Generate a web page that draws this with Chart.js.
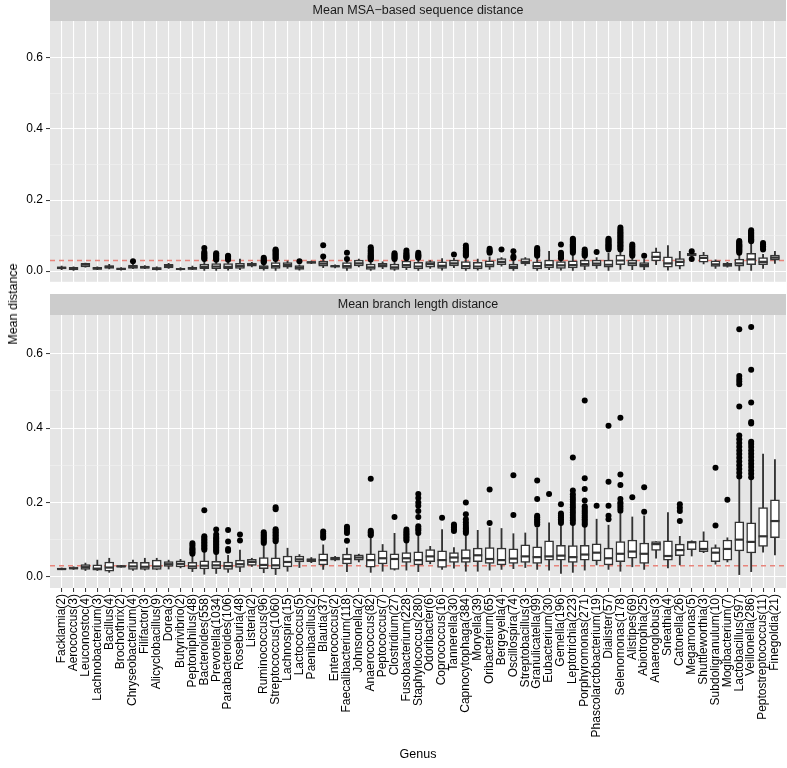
<!DOCTYPE html>
<html><head><meta charset="utf-8">
<script src="https://cdn.jsdelivr.net/npm/chart.js@4"></script>
<style>
html,body{margin:0;padding:0;background:#fff;width:787px;height:768px;overflow:hidden;font-family:"Liberation Sans",Arial,sans-serif}
canvas{position:absolute;left:0}
#c1{top:0}
#c2{top:294px}
#ylab{position:absolute;left:13px;top:304px;transform:translate(-50%,-50%) rotate(-90deg);font-size:12.5px;white-space:nowrap;color:#000}
</style></head><body>
<canvas id="c1" width="787" height="292"></canvas>
<canvas id="c2" width="787" height="474"></canvas>
<div id="ylab">Mean distance</div>
<script>
// ---------- data ----------
const genera = ["Facklamia(2)","Aerococcus(3)","Leuconostoc(4)","Lachnobacterium(3)","Bacillus(4)","Brochothrix(2)","Chryseobacterium(4)","Filifactor(3)","Alicyclobacillus(9)","Dorea(3)","Butyrivibrio(2)","Peptoniphilus(48)","Bacteroides(558)","Prevotella(1034)","Parabacteroides(106)","Roseburia(48)","Listeria(2)","Ruminococcus(96)","Streptococcus(1060)","Lachnospira(15)","Lactococcus(5)","Paenibacillus(2)","Blautia(37)","Enterococcus(2)","Faecalibacterium(118)","Johnsonella(2)","Anaerococcus(82)","Peptococcus(7)","Clostridium(27)","Fusobacterium(228)","Staphylococcus(280)","Odoribacter(6)","Coprococcus(16)","Tannerella(30)","Capnocytophaga(384)","Moryella(39)","Oribacterium(65)","Bergeyella(4)","Oscillospira(74)","Streptobacillus(3)","Granulicatella(99)","Eubacterium(30)","Gemella(196)","Leptotrichia(223)","Porphyromonas(271)","Phascolarctobacterium(19)","Dialister(57)","Selenomonas(178)","Alistipes(69)","Abiotrophia(25)","Anaeroglobus(3)","Sneathia(4)","Catonella(26)","Megamonas(5)","Shuttleworthia(3)","Subdoligranulum(10)","Mogibacterium(7)","Lactobacillus(597)","Veillonella(286)","Peptostreptococcus(11)","Finegoldia(21)"];

const panelTitles = ["Mean MSA\u2212based sequence distance", "Mean branch length distance"];
const refLine = 0.03;
const yMajorTicks = [0, 0.2, 0.4, 0.6];
const yMinorTicks = [0.1, 0.3, 0.5];

// Panel 1: Mean MSA-based sequence distance
const msaLo  = [.004,.002,.011,.004,.006,.003,.007,.007,.003,.008,.003,.004,.002,.002,.003,.004,.012,.003,.002,.008,.003,.021,.010,.009,.002,.012,.002,.007,.002,.004,.002,.008,.003,.010,.002,.003,.005,.014,.002,.016,.002,.004,.003,.002,.004,.008,.002,.005,.004,.004,.018,.003,.006,.040,.020,.008,.011,.002,.002,.008,.022];
const msaQ1  = [.006,.004,.012,.005,.008,.004,.008,.008,.004,.009,.004,.005,.007,.007,.007,.008,.014,.006,.008,.011,.005,.022,.014,.011,.008,.015,.005,.011,.005,.010,.006,.011,.008,.015,.006,.006,.011,.018,.006,.020,.006,.009,.008,.009,.013,.015,.011,.018,.015,.011,.029,.011,.014,.043,.025,.013,.013,.014,.018,.018,.031];
const msaMed = [.009,.007,.018,.008,.012,.006,.012,.011,.007,.014,.006,.008,.012,.013,.012,.014,.019,.011,.014,.017,.010,.025,.021,.014,.014,.022,.011,.016,.011,.017,.013,.020,.015,.022,.014,.013,.018,.026,.012,.026,.014,.017,.016,.017,.020,.021,.018,.030,.022,.017,.040,.022,.026,.047,.037,.019,.017,.022,.033,.026,.038];
const msaQ3  = [.012,.011,.022,.011,.016,.009,.017,.014,.010,.019,.008,.011,.020,.021,.021,.022,.023,.016,.024,.024,.016,.027,.028,.016,.024,.031,.020,.022,.020,.028,.025,.027,.026,.031,.027,.025,.029,.035,.020,.035,.026,.031,.027,.029,.031,.031,.031,.045,.031,.024,.054,.040,.035,.050,.045,.029,.022,.034,.050,.038,.045];
const msaHi  = [.014,.012,.023,.012,.019,.010,.019,.016,.012,.022,.010,.014,.032,.030,.030,.034,.025,.023,.032,.028,.018,.028,.035,.018,.030,.034,.030,.026,.030,.033,.035,.030,.035,.036,.038,.034,.040,.038,.030,.038,.036,.056,.033,.045,.040,.038,.050,.058,.040,.034,.065,.072,.056,.052,.053,.032,.025,.048,.080,.047,.056];
const msaOut = [[],[],[],[],[],[],[.028],[],[],[],[],[],
  [.034,.037,.040,.043,.046,.050,.054,.065],
  [.032,.035,.038,.041,.044,.047,.050],
  [.032,.035,.038,.041,.043],
  [],[],
  [.025,.028,.031,.034,.038],
  [.034,.037,.040,.043,.046,.049,.052,.055,.058,.061],
  [],[.028],[],[.041,.073],[],[.034,.052],[],
  [.033,.036,.039,.042,.045,.048,.051,.055,.058,.062,.067],
  [],[.034,.037,.040,.043,.046,.050],
  [.036,.039,.042,.045,.048,.052,.058],
  [.038,.041,.044,.047,.052],
  [],[],[.047],
  [.043,.046,.049,.052,.055,.058,.062,.066,.072],
  [],[.052,.055,.058,.063],[.061],[.037,.041,.056],[],
  [.043,.046,.049,.052,.055,.058,.061,.065],
  [],[.036,.040,.044,.048,.052,.075],
  [.052,.055,.058,.061,.064,.067,.070,.073,.076,.079,.082,.085,.088,.091],
  [.043,.046,.049,.052,.056,.061],
  [.054],
  [.061,.064,.067,.070,.073,.076,.079,.082,.085,.088,.091],
  [.061,.065,.069,.073,.077,.081,.085,.089,.093,.097,.101,.105,.109,.113,.117,.123],
  [.043,.047,.051,.055,.060,.065,.070,.075],
  [.043],[],[],[],[.034,.056],[],[],[],
  [.052,.055,.058,.061,.064,.067,.070,.073,.076,.079,.082,.085],
  [.084,.087,.090,.093,.096,.099,.102,.105,.108,.111,.115],
  [.061,.065,.070,.075,.079],
  []];

// Panel 2: Mean branch length distance
const brLo  = [.019,.020,.017,.017,.012,.026,.017,.018,.019,.021,.024,.014,.007,.009,.012,.014,.028,.011,.006,.015,.025,.038,.020,.043,.014,.040,.012,.015,.018,.018,.014,.035,.020,.023,.015,.015,.018,.020,.022,.025,.020,.018,.009,.012,.018,.032,.020,.015,.027,.020,.050,.024,.032,.056,.065,.034,.040,.006,.014,.066,.059];
const brQ1  = [.020,.021,.020,.018,.015,.027,.020,.020,.020,.028,.027,.021,.021,.022,.020,.025,.031,.022,.021,.027,.040,.041,.032,.045,.035,.045,.026,.035,.020,.039,.032,.041,.025,.039,.039,.041,.036,.032,.036,.039,.036,.045,.045,.039,.045,.043,.032,.041,.050,.036,.071,.045,.057,.073,.068,.041,.045,.070,.064,.082,.105];
const brMed = [.021,.023,.026,.022,.025,.028,.028,.027,.028,.034,.035,.028,.030,.031,.029,.034,.040,.032,.031,.040,.047,.045,.045,.049,.048,.052,.045,.050,.048,.050,.045,.055,.045,.052,.050,.058,.048,.045,.049,.055,.053,.055,.057,.053,.060,.065,.050,.062,.068,.062,.088,.056,.072,.093,.075,.065,.075,.100,.094,.109,.150];
const brQ3  = [.023,.026,.033,.032,.040,.030,.039,.039,.045,.041,.043,.039,.043,.042,.040,.045,.047,.052,.051,.056,.056,.049,.062,.053,.061,.059,.062,.070,.062,.065,.067,.073,.070,.065,.073,.077,.079,.077,.075,.086,.081,.097,.085,.084,.085,.089,.077,.095,.099,.091,.095,.097,.088,.095,.097,.079,.099,.148,.145,.186,.207];
const brHi  = [.024,.027,.037,.045,.050,.031,.045,.050,.050,.045,.047,.058,.070,.065,.058,.072,.050,.083,.090,.077,.060,.052,.086,.055,.077,.061,.105,.087,.117,.095,.113,.082,.127,.079,.115,.125,.132,.130,.116,.118,.132,.145,.139,.140,.136,.155,.139,.170,.161,.164,.095,.173,.109,.097,.121,.086,.105,.262,.262,.330,.315];
const brOut = [[],[],[],[],[],[],[],[],[],[],[],
  [.062,.066,.070,.074,.078,.085,.090],
  [.073,.077,.081,.085,.089,.093,.097,.101,.105,.109,.179],
  [.067,.071,.075,.079,.083,.087,.091,.095,.099,.103,.107,.114,.127],
  [.070,.075,.095,.126],
  [.098,.114],
  [],
  [.091,.095,.099,.103,.107,.111,.115,.120],
  [.096,.100,.104,.108,.112,.116,.120,.124,.128,.182,.187],
  [],[],[],
  [.105,.110,.116,.122],
  [],
  [.097,.118,.123,.129,.135],
  [],
  [.112,.116,.120,.124,.264],
  [],
  [.161],
  [.098,.102,.106,.110,.114,.118,.122,.127],
  [.118,.125,.130,.136,.161,.177,.191,.200,.212,.223],
  [],
  [.159],
  [.123,.128,.133,.137,.141],
  [.118,.122,.126,.130,.134,.140,.147,.155,.168,.200],
  [],
  [.145,.235],
  [],
  [.166,.273],
  [],
  [.141,.146,.150,.155,.160,.164,.209,.259],
  [.223],
  [.145,.150,.155,.160,.165,.170,.195],
  [.145,.152,.159,.166,.173,.180,.187,.194,.201,.208,.215,.222,.232,.321],
  [.140,.145,.150,.155,.160,.165,.170,.175,.180,.185,.190,.205,.236,.265,.474],
  [.191],
  [.155,.164,.191,.256,.406],
  [.178,.184,.190,.196,.200,.209,.247,.275,.428],
  [.214],
  [.175,.241],
  [],[],
  [.150,.177,.186,.195],
  [],[],
  [.138,.293],
  [.207],
  [.27,.28,.29,.30,.31,.32,.33,.34,.35,.36,.37,.38,.458,.518,.525,.532,.54,.666],
  [.268,.277,.286,.295,.304,.313,.322,.331,.340,.349,.357,.363,.412,.416,.469,.557,.672],
  [],[]];

// ---------- chart ----------
const X_MIN = -0.98, X_MAX = 60.93, Y_MIN = -0.03, Y_MAX = 0.704;
const FONT = "'Liberation Sans', Arial, Helvetica, sans-serif";
Chart.defaults.font.family = FONT;
const isMajor = v => Math.round(v * 10) % 2 === 0;

const panelPlugin = {
  id: 'panelBg',
  beforeDraw(chart) {
    const {ctx, chartArea: a} = chart;
    ctx.save();
    ctx.fillStyle = '#E5E5E5';
    ctx.fillRect(a.left, a.top, a.right - a.left, a.bottom - a.top);
    const tb = chart.titleBlock;
    ctx.fillStyle = '#CCCCCC';
    ctx.fillRect(a.left, tb.top, a.right - a.left, a.top - tb.top);
    ctx.restore();
  }
};

function makeChart(id, title, lo, q1, med, q3, hi, out, showX) {
  const idx = genera.map((_, i) => i);
  const outPts = [];
  out.forEach((arr, i) => arr.forEach(v => outPts.push({x: i, y: v})));
  return new Chart(document.getElementById(id), {
    type: 'bar',
    data: {
      datasets: [
        {type: 'line', data: [{x: X_MIN, y: refLine}, {x: X_MAX, y: refLine}], borderColor: '#E8857C',
         borderDash: [5, 4], borderWidth: 1.4, pointRadius: 0, order: 5},
        {type: 'bar', data: idx.map(i => ({x: i, y: [lo[i], hi[i]]})), backgroundColor: '#333333',
         barThickness: 1.2, grouped: false, order: 4},
        {type: 'bar', data: idx.map(i => ({x: i, y: [q1[i], q3[i]]})), backgroundColor: '#FFFFFF',
         borderColor: '#333333', borderWidth: 1.5, borderSkipped: false, barThickness: 9, grouped: false, order: 3},
        {type: 'line', data: idx.map(i => ({x: i, y: med[i]})), showLine: false, pointStyle: 'line',
         pointRadius: 4.5, pointBorderWidth: 2.2, pointBorderColor: '#333333', order: 2},
        {type: 'scatter', data: outPts, pointRadius: 3, pointBackgroundColor: '#000000',
         pointBorderWidth: 0, order: 1}
      ]
    },
    options: {
      responsive: false, animation: false, events: [], devicePixelRatio: 1,
      layout: {autoPadding: false, padding: {left: 0, right: 1, top: 0, bottom: showX ? 0 : 2}},
      plugins: {
        legend: {display: false}, tooltip: {enabled: false},
        title: {display: true, text: title, fullSize: false, color: '#1A1A1A',
                font: {size: 12.5, weight: 'normal', lineHeight: 1.2}, padding: {top: 3, bottom: 3}}
      },
      scales: {
        x: {
          type: 'linear', min: X_MIN, max: X_MAX, offset: false,
          afterBuildTicks: s => { s.ticks = idx.map(i => ({value: i})); },
          afterFit: s => { s.height = showX ? 180 : 0; s.paddingLeft = 0; s.paddingRight = 0; },
          ticks: {display: showX, autoSkip: false, maxRotation: 90, minRotation: 90, padding: 2,
                  color: '#000', font: {size: 12}, callback: v => genera[v] ?? ''},
          grid: {offset: false, color: '#FFFFFF', lineWidth: 1.1, drawTicks: showX, tickColor: '#333333', tickLength: 4, tickWidth: 1},
          border: {display: false},
          title: {display: showX, text: 'Genus', color: '#000', font: {size: 12.5}, padding: {top: 4, bottom: 6}}
        },
        y: {
          min: Y_MIN, max: Y_MAX,
          afterBuildTicks: s => { s.ticks = [...yMajorTicks, ...yMinorTicks].sort((a, b) => a - b).map(v => ({value: v})); },
          afterFit: s => { s.width = 50; },
          ticks: {color: '#000', font: {size: 12}, padding: 3,
                  callback: v => isMajor(v) ? v.toFixed(1) : ''},
          grid: {
            color: c => (c.tick && !isMajor(c.tick.value)) ? '#F2F2F2' : '#FFFFFF',
            lineWidth: c => (c.tick && !isMajor(c.tick.value)) ? 0.6 : 1.1,
            tickColor: c => (c.tick && !isMajor(c.tick.value)) ? 'rgba(0,0,0,0)' : '#333333',
            tickWidth: 1, tickLength: 4
          },
          border: {display: false}
        }
      }
    },
    plugins: [panelPlugin]
  });
}

makeChart('c1', panelTitles[0], msaLo, msaQ1, msaMed, msaQ3, msaHi, msaOut, false);
makeChart('c2', panelTitles[1], brLo, brQ1, brMed, brQ3, brHi, brOut, true);
</script>
</body></html>
